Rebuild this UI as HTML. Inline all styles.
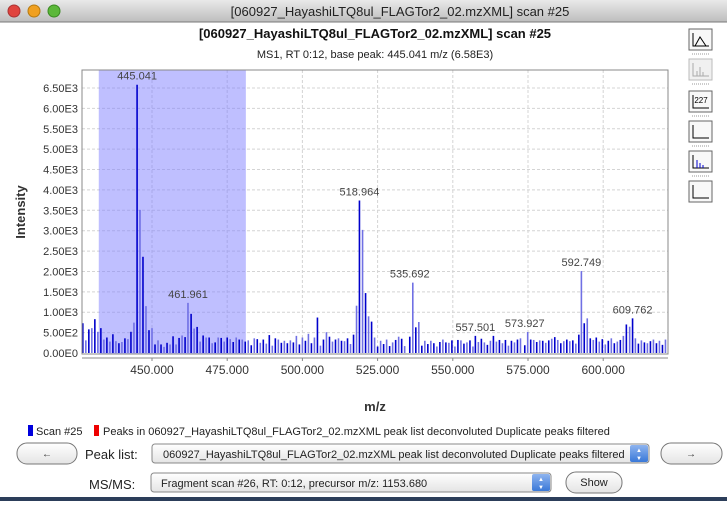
<!DOCTYPE html>
<html><head><meta charset="utf-8"><style>
body{margin:0;width:727px;height:501px;overflow:hidden;background:#fff;font-family:"Liberation Sans",sans-serif}
</style></head><body>
<svg width="727" height="501" viewBox="0 0 727 501" xmlns="http://www.w3.org/2000/svg" font-family="Liberation Sans, sans-serif">
<defs>
<linearGradient id="tb" x1="0" y1="0" x2="0" y2="1"><stop offset="0" stop-color="#e9e9e9"/><stop offset="1" stop-color="#bdbdbd"/></linearGradient>
<linearGradient id="btn" x1="0" y1="0" x2="0" y2="1"><stop offset="0" stop-color="#ffffff"/><stop offset="1" stop-color="#e4e4e4"/></linearGradient>
<linearGradient id="blu" x1="0" y1="0" x2="0" y2="1"><stop offset="0" stop-color="#8fb4ef"/><stop offset="1" stop-color="#3a78d8"/></linearGradient>
</defs>
<g>
<rect x="0" y="0" width="727" height="22" fill="url(#tb)"/>
<line x1="0" y1="22" x2="727" y2="22" stroke="#7a7a7a"/>
<circle cx="14" cy="11" r="6" fill="#e0443e" stroke="#a33"/>
<circle cx="34" cy="11" r="6" fill="#f0a020" stroke="#b77a10"/>
<circle cx="54" cy="11" r="6" fill="#5cb83a" stroke="#3a8a22"/>
<text x="400" y="16" font-size="13" text-anchor="middle" fill="#222">[060927_HayashiLTQ8ul_FLAGTor2_02.mzXML] scan #25</text>
</g>
<text x="375" y="38" font-size="13" font-weight="bold" text-anchor="middle" fill="#111">[060927_HayashiLTQ8ul_FLAGTor2_02.mzXML] scan #25</text>
<text x="375" y="58" font-size="11" text-anchor="middle" fill="#222">MS1, RT 0:12, base peak: 445.041 m/z (6.58E3)</text>
<g id="plot"></g>
<text transform="translate(25,212) rotate(-90)" font-size="13" font-weight="bold" text-anchor="middle" fill="#333">Intensity</text>
<text x="375" y="411" font-size="13" font-weight="bold" text-anchor="middle" fill="#333">m/z</text>
<g font-size="11" fill="#222">
<rect x="28" y="425" width="5" height="11" fill="#0000dd"/>
<text x="36" y="435">Scan #25</text>
<rect x="94" y="425" width="5" height="11" fill="#ee0000"/>
<text x="103" y="435">Peaks in 060927_HayashiLTQ8ul_FLAGTor2_02.mzXML peak list deconvoluted Duplicate peaks filtered</text>
</g>
<g>
<rect x="17" y="443" width="60" height="21" rx="10" fill="url(#btn)" stroke="#777"/>
<text x="47" y="457" font-size="10" text-anchor="middle" fill="#333">←</text>
</g>
<text x="85" y="459" font-size="13" fill="#222">Peak list:</text>
<g>
<rect x="152" y="444" width="497" height="19" rx="3" fill="url(#btn)" stroke="#888"/>
<rect x="630" y="445" width="18" height="17" rx="2" fill="url(#blu)"/>
<text x="639" y="452" font-size="6" text-anchor="middle" fill="#fff">▲</text>
<text x="639" y="460" font-size="6" text-anchor="middle" fill="#fff">▼</text>
<text x="163" y="458" font-size="11" fill="#222">060927_HayashiLTQ8ul_FLAGTor2_02.mzXML peak list deconvoluted Duplicate peaks filtered</text>
</g>
<g>
<rect x="661" y="443" width="61" height="21" rx="10" fill="url(#btn)" stroke="#777"/>
<text x="691" y="457" font-size="10" text-anchor="middle" fill="#333">→</text>
</g>
<text x="89" y="489" font-size="13" fill="#222">MS/MS:</text>
<g>
<rect x="151" y="473" width="400" height="19" rx="3" fill="url(#btn)" stroke="#888"/>
<rect x="532" y="474" width="18" height="17" rx="2" fill="url(#blu)"/>
<text x="541" y="481" font-size="6" text-anchor="middle" fill="#fff">▲</text>
<text x="541" y="489" font-size="6" text-anchor="middle" fill="#fff">▼</text>
<text x="161" y="487" font-size="11" fill="#222">Fragment scan #26, RT: 0:12, precursor m/z: 1153.680</text>
</g>
<g>
<rect x="566" y="472" width="56" height="21" rx="10" fill="url(#btn)" stroke="#777"/>
<text x="594" y="486" font-size="11" text-anchor="middle" fill="#222">Show</text>
</g>
<rect x="0" y="497" width="727" height="4" fill="#2c3e5a"/>
<g id="tools"></g>
</svg>
<script>
const mzValues=[427,428,429,430,431,432,433,434,435,436,437,438,439,440,441,442,443,444,445.041,446,447,448,449,450,451,452,453,454,455,456,457,458,459,460,461,461.961,463,464,465,466,467,468,469,470,471,472,473,474,475,476,477,478,479,480,481,482,483,484,485,486,487,488,489,490,491,492,493,494,495,496,497,498,499,500,501,502,503,504,505,506,507,508,509,510,511,512,513,514,515,516,517,518,518.964,520,521,522,523,524,525,526,527,528,529,530,531,532,533,534,535.692,536.7,537.7,538.7,539.7,540.7,541.7,542.7,543.7,544.7,545.7,546.7,547.7,548.7,549.7,550.7,551.7,552.7,553.7,554.7,555.7,556.7,557.501,558.5,559.5,560.5,561.5,562.5,563.5,564.5,565.5,566.5,567.5,568.5,569.5,570.5,571.5,572.5,573.927,574.9,575.9,576.9,577.9,578.9,579.9,580.9,581.9,582.9,583.9,584.9,585.9,586.9,587.9,588.9,589.9,590.9,591.9,592.749,593.7,594.7,595.7,596.7,597.7,598.7,599.7,600.7,601.7,602.7,603.7,604.7,605.7,606.7,607.7,608.8,609.762,610.7,611.7,612.7,613.7,614.7,615.7,616.7,617.7,618.7,619.7,620.7];
const intensities=[730,310,580,610,830,520,610,330,380,280,460,290,240,270,360,340,520,745,6580,3510,2360,1150,560,610,210,310,210,150,250,210,410,210,370,430,390,1230,960,600,640,280,430,380,380,240,260,380,370,280,380,340,270,380,330,330,280,310,190,360,340,250,330,230,440,180,360,330,250,300,240,310,260,420,210,380,300,470,240,380,870,180,330,510,400,280,330,360,300,290,360,220,450,1160,3740,3020,1470,900,770,380,160,300,220,330,170,260,320,400,350,170,400,1725,630,760,180,300,220,300,240,160,270,330,260,250,310,160,320,310,230,260,310,160,420,270,350,260,200,300,420,280,320,240,320,180,300,260,330,360,190,515,330,320,270,310,300,250,310,350,390,320,240,290,330,290,310,230,450,2010,730,850,360,320,380,280,340,210,300,360,240,280,320,420,700,645,850,360,230,310,260,240,290,330,240,300,200,330];
const labelMz=[445.041,461.961,518.964,535.692,557.501,573.927,592.749,609.762];
const labelIntensity=[6580,1230,3740,1725,420,515,2010,850];
const yTicks=[0,500,1000,1500,2000,2500,3000,3500,4000,4500,5000,5500,6000,6500];
const yTickLabels=["0.00E0","5.00E2","1.00E3","1.50E3","2.00E3","2.50E3","3.00E3","3.50E3","4.00E3","4.50E3","5.00E3","5.50E3","6.00E3","6.50E3"];
const xTicks=[450,475,500,525,550,575,600];
const xTickLabels=["450.000","475.000","500.000","525.000","550.000","575.000","600.000"];
const selection=[432.3,481.2];
const NS='http://www.w3.org/2000/svg';
const L=82,R=668,T=70,B=354;
const xs=m=>152+(m-450)*3.008;
const ys=v=>353-v*0.04077;
const plot=document.getElementById('plot');
function mk(tag,a,parent){const e=document.createElementNS(NS,tag);for(const k in a)e.setAttribute(k,a[k]);(parent||plot).appendChild(e);return e;}
let e=mk('rect',{x:L,y:T,width:R-L,height:B-T,fill:'#fff'});


yTicks.forEach((v,i)=>{
 if(v>0){e=mk('line',{x1:L,x2:R,y1:ys(v),y2:ys(v),stroke:'#d4d4d4','stroke-dasharray':'3,2'});
 
 }
 e=mk('text',{x:L-4,y:ys(v)+4,'font-size':11,'text-anchor':'end',fill:'#333'});e.textContent=yTickLabels[i];
 
 
});
xTicks.forEach((v,i)=>{
 e=mk('line',{x1:xs(v),x2:xs(v),y1:T,y2:B,stroke:'#d4d4d4','stroke-dasharray':'3,2'});
 
 
 e=mk('line',{x1:xs(v),x2:xs(v),y1:358,y2:361,stroke:'#888'});
 
 
 e=mk('text',{x:xs(v),y:374,'font-size':12,'text-anchor':'middle',fill:'#333'});e.textContent=xTickLabels[i];
 
 
});
e=mk('rect',{x:xs(selection[0]),y:T,width:xs(selection[1])-xs(selection[0]),height:B-T,fill:'#8080ff','fill-opacity':0.5});


mzValues.forEach((m,i)=>{
 e=mk('line',{x1:xs(m),x2:xs(m),y1:353,y2:ys(intensities[i]),stroke:(i%2?'#7070e4':'#0000cc'),'stroke-width':1.6});
 
 
});
labelMz.forEach((m,i)=>{
 e=mk('text',{x:xs(m),y:ys(labelIntensity[i])-5,'font-size':11,'text-anchor':'middle',fill:'#444'});e.textContent=labelMz[i].toFixed(3);
 
 
});
e=mk('rect',{x:L,y:T,width:R-L,height:B-T,fill:'none',stroke:'#888'});


e=mk('line',{x1:L,x2:R,y1:358,y2:358,stroke:'#888'});


const tools=document.getElementById('tools');
const toolY=[29,59,91,121,151,181];
const toolNames=['continuous-mode-button','show-peaks-button','annotations-button','pick-peaks-button','centroid-button','axis-button'];
toolY.forEach((y,i)=>{
 e=mk('rect',{x:689,y:y,width:23,height:21,fill:(i==1?'#f0f0f0':'#f8f8f8'),stroke:(i==1?'#bbb':'#666')},tools);
 
 
 mk('path',{d:`M693 ${y+4}V${y+17}H709`,stroke:(i==1?'#aaa':'#000'),fill:'none'},tools);
 if(i<5){e=mk('line',{x1:692,x2:710,y1:y+25,y2:y+25,stroke:'#999','stroke-dasharray':'1,1'},tools);}
});
mk('path',{d:'M695 46L700 37L706 46',stroke:'#000',fill:'none'},tools);
e=mk('text',{x:701,y:103,'font-size':8,'text-anchor':'middle'},tools);e.textContent='227';
mk('path',{d:'M697 168V160M700 168V163M703 168V165',stroke:'#0000cc'},tools);
mk('path',{d:'M697 76V71M700 76V67M703 76V72',stroke:'#aaa'},tools);
</script>
</body></html>
